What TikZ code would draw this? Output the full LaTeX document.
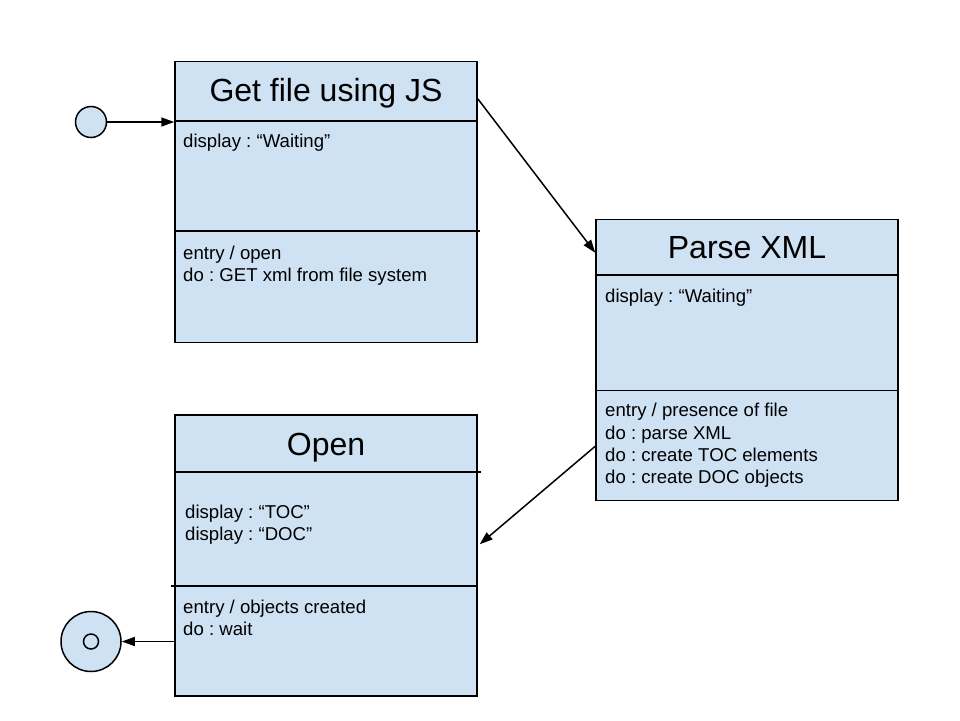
\documentclass[tikz,border=0pt]{standalone}
\usepackage{fontspec}
\setmainfont{Liberation Sans}
\frenchspacing
\usetikzlibrary{arrows.meta, calc}

\definecolor{stateblue}{HTML}{CFE2F3}

\tikzset{
  statebox/.style={draw, rectangle, fill=stateblue, line width=1.5pt, inner sep=0pt,
    minimum width=302pt, minimum height=281pt},
  divider/.style={line width=1.5pt},
  statetitle/.style={font=\fontsize{32}{38}\selectfont, anchor=base, inner sep=0pt},
  acttext/.style={font=\fontsize{18.6}{22.3}\selectfont, anchor=north west, align=left, inner sep=0pt},
  trans/.style={-{Triangle[length=13pt,width=9pt]}, line width=1.5pt},
  pseudo/.style={draw, circle, fill=stateblue, line width=1.5pt, inner sep=0pt}
}

\begin{document}
\begin{tikzpicture}[x=1pt, y=-1pt]
\useasboundingbox (0,0) rectangle (960,720);

% states
\node[statebox] (getfile) at (326,202) {};
\node[statebox] (parsexml) at (747,360) {};
\node[statebox] (open) at (326,555.5) {};

\draw[divider] ($(getfile.north west)+(0,60)$) -- ($(getfile.north east)+(0,60)$);
\draw[divider] ($(getfile.north west)+(0,170)$) -- ($(getfile.north east)+(2,170)$);
\draw[divider] ($(parsexml.north west)+(0,56)$) -- ($(parsexml.north east)+(0,56)$);
\draw[divider] ($(parsexml.north west)+(0,171.5)$) -- ($(parsexml.north east)+(0,171.5)$);
\draw[divider] ($(open.north west)+(0,57.5)$) -- ($(open.north east)+(3,57.5)$);
\draw[divider] ($(open.north west)+(-3,171.5)$) -- ($(open.north east)+(0,171.5)$);

\node[statetitle] (getfiletitle) at (326,101.5) {Get file using JS};
\node[statetitle] (parsexmltitle) at (747,258.3) {Parse XML};
\node[statetitle] (opentitle) at (326,455) {Open};

% activity text, placed by the top of its first line
\node[acttext] (getfiledisp) at (183,134) {display : “Waiting”};
\node[acttext] (getfileact) at (183,245.5) {entry / open\\do : GET xml from file system};
\node[acttext] (parsexmldisp) at (605,289.2) {display : “Waiting”};
\node[acttext] (parsexmlact) at (605,403.2) {entry / presence of file\\do : parse XML\\do : create TOC elements\\do : create DOC objects};
\node[acttext] (opendisp) at (185,504.5) {display : “TOC”\\display : “DOC”};
\node[acttext] (openact) at (183,599.8) {entry / objects created\\do : wait};

% pseudo states
\node[pseudo, minimum size=31pt] (init) at (91,122) {};
\node[pseudo, minimum size=60pt] (final) at (91,641.5) {};
\node[draw, circle, line width=1.5pt, inner sep=0pt, minimum size=15pt] (finaldot) at (final) {};

% transitions
\draw[trans] (init) -- (init -| getfile.west);
\draw[trans] ($(getfile.north east)+(0,38)$) -- ($(parsexml.north west)+(0,34)$);
\draw[trans] ($(parsexml.north west)+(0,227.5)$) -- ($(open.north east)+(2,130)$);
\draw[trans] (final -| open.west) -- (final);

\end{tikzpicture}
\end{document}
